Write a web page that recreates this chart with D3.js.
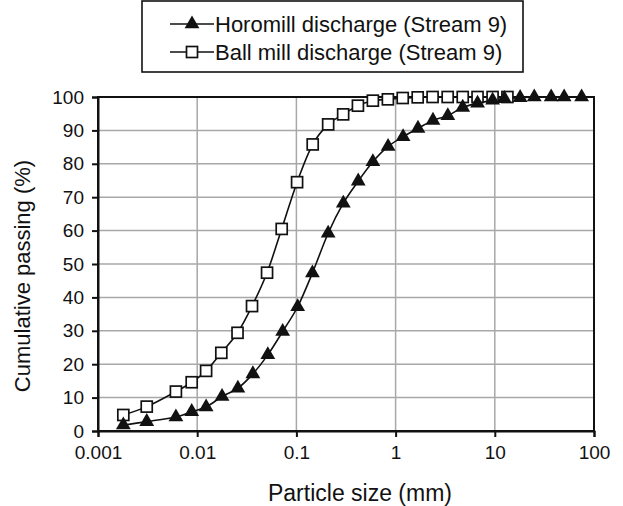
<!DOCTYPE html>
<html>
<head>
<meta charset="utf-8">
<script src="https://cdn.jsdelivr.net/npm/d3@7"></script>
<style>
  html, body { margin: 0; padding: 0; background: #fff; }
  svg { display: block; font-family: "Liberation Sans", Arial, sans-serif; }
</style>
</head>
<body>
<svg id="chart" width="623" height="506"></svg>
<script>
// ---- data ----
const seriesNames = ["Horomill discharge (Stream 9)", "Ball mill discharge (Stream 9)"];
const horoSize = [0.0018, 0.0031, 0.0061, 0.0088, 0.0123, 0.0178, 0.0257, 0.0364, 0.0515, 0.0727, 0.103, 0.145, 0.209, 0.297, 0.42, 0.59, 0.84, 1.19, 1.68, 2.38, 3.36, 4.75, 6.7, 9.5, 12.5, 18, 25, 37, 50, 75];
const horoPass = [1.8, 2.8, 4.2, 5.8, 7.2, 10.3, 12.8, 17.1, 22.8, 29.8, 37.2, 47.3, 59.2, 68.2, 74.8, 80.6, 85.2, 88.1, 90.6, 93.0, 94.4, 96.9, 98.1, 99.0, 99.5, 99.8, 100, 100, 100, 100];
const ballSize = [0.0018, 0.0031, 0.0061, 0.0088, 0.0123, 0.0175, 0.0255, 0.0357, 0.0506, 0.0711, 0.1016, 0.146, 0.209, 0.296, 0.417, 0.59, 0.836, 1.18, 1.67, 2.36, 3.35, 4.75, 6.7, 9.5, 13.4];
const ballPass = [4.8, 7.3, 11.8, 14.6, 18.0, 23.4, 29.4, 37.4, 47.4, 60.5, 74.5, 85.8, 91.8, 94.8, 97.4, 98.9, 99.3, 99.7, 99.9, 100, 100, 100, 100, 100, 100];
const xTicks = [0.001, 0.01, 0.1, 1, 10, 100];
const xTickLabels = ["0.001", "0.01", "0.1", "1", "10", "100"];
const yTicks = [0, 10, 20, 30, 40, 50, 60, 70, 80, 90, 100];
const xTitle = "Particle size (mm)";
const yTitle = "Cumulative passing (%)";

// ---- layout ----
const svg = d3.select("#chart");
const L = 98, R = 594, T = 97, B = 431;
const x = d3.scaleLog().domain([0.001, 100]).range([L, R]);
const y = d3.scaleLinear().domain([0, 100]).range([B, T]);
const ink = "#111";
const gridColor = "#a8a8a8";

// gridlines
svg.append("g").selectAll("line").data(yTicks.slice(1, -1)).join("line")
  .attr("x1", L).attr("x2", R).attr("y1", d => y(d)).attr("y2", d => y(d))
  .attr("stroke", gridColor).attr("stroke-width", 1.5);
svg.append("g").selectAll("line").data(xTicks.slice(1, -1)).join("line")
  .attr("y1", T).attr("y2", B).attr("x1", d => x(d)).attr("x2", d => x(d))
  .attr("stroke", gridColor).attr("stroke-width", 1.5);

// frame
svg.append("rect").attr("x", L).attr("y", T).attr("width", R - L).attr("height", B - T)
  .attr("fill", "none").attr("stroke", ink).attr("stroke-width", 2);

// axes
const xAxis = d3.axisBottom(x).tickValues(xTicks).tickFormat((d, i) => xTickLabels[i]).tickSize(6).tickPadding(9);
const gx = svg.append("g").attr("transform", `translate(0,${B})`).call(xAxis);
gx.select(".domain").attr("stroke", ink).attr("stroke-width", 2);
gx.selectAll(".tick line").attr("stroke", ink).attr("stroke-width", 2);
gx.selectAll(".tick text").attr("font-size", 19).attr("fill", ink).attr("font-family", "Liberation Sans, Arial, sans-serif");

const yAxis = d3.axisLeft(y).tickValues(yTicks).tickSize(6).tickPadding(8);
const gy = svg.append("g").attr("transform", `translate(${L},0)`).call(yAxis);
gy.select(".domain").attr("stroke", ink).attr("stroke-width", 2);
gy.selectAll(".tick line").attr("stroke", ink).attr("stroke-width", 2);
gy.selectAll(".tick text").attr("font-size", 19).attr("fill", ink).attr("font-family", "Liberation Sans, Arial, sans-serif");

// axis titles
svg.append("text").attr("x", 360).attr("y", 501).attr("text-anchor", "middle")
  .attr("font-size", 23).attr("fill", ink).text(xTitle);
svg.append("text").attr("transform", `translate(30,276) rotate(-90)`).attr("text-anchor", "middle")
  .attr("font-size", 22).attr("fill", ink).text(yTitle);

// lines
const line = d3.line().x(d => x(d[0])).y(d => y(d[1])).curve(d3.curveCardinal.tension(0));
const ballData = ballSize.map((s, i) => [s, ballPass[i]]);
const horoData = horoSize.map((s, i) => [s, horoPass[i]]);

svg.append("path").datum(ballData).attr("d", line).attr("fill", "none").attr("stroke", ink).attr("stroke-width", 1.6);
svg.append("path").datum(horoData).attr("d", line).attr("fill", "none").attr("stroke", ink).attr("stroke-width", 1.6);

const sq = 11;
const tri = d3.symbol().type(d3.symbolTriangle).size(95);

svg.append("g").selectAll("rect").data(ballData).join("rect")
  .attr("x", d => x(d[0]) - sq / 2).attr("y", d => y(d[1]) - sq / 2)
  .attr("width", sq).attr("height", sq)
  .attr("fill", "#fff").attr("stroke", ink).attr("stroke-width", 1.7);

svg.append("g").selectAll("path").data(horoData).join("path")
  .attr("transform", d => `translate(${x(d[0])},${y(d[1])})`)
  .attr("d", tri).attr("fill", ink);

// legend
const lg = svg.append("g");
lg.append("rect").attr("x", 142).attr("y", 1).attr("width", 381).attr("height", 71)
  .attr("fill", "#fff").attr("stroke", ink).attr("stroke-width", 1.6);
const rowsY = [24, 52];
seriesNames.forEach((name, i) => {
  const ry = rowsY[i];
  lg.append("line").attr("x1", 170).attr("x2", 214).attr("y1", ry).attr("y2", ry)
    .attr("stroke", ink).attr("stroke-width", 1.6);
  if (i === 0) {
    lg.append("path").attr("transform", `translate(192,${ry})`).attr("d", tri).attr("fill", ink);
  } else {
    lg.append("rect").attr("x", 192 - sq / 2).attr("y", ry - sq / 2).attr("width", sq).attr("height", sq)
      .attr("fill", "#fff").attr("stroke", ink).attr("stroke-width", 1.7);
  }
  lg.append("text").attr("x", 215).attr("y", ry + 8).attr("font-size", 22).attr("fill", ink).text(name);
});
</script>
</body>
</html>
